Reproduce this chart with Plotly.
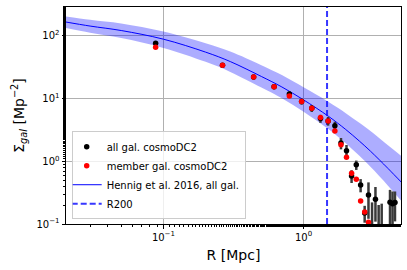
import plotly.graph_objects as go

# ---- data ----
# all galaxies (cosmoDC2): radius [Mpc], surface density, 1-sigma error
all_r = [0.088, 0.264, 0.440, 0.616, 0.792, 0.968, 1.144, 1.320, 1.496, 1.672,
         1.848, 2.024, 2.200, 2.376, 2.552, 2.728, 2.904, 3.256, 4.136, 4.312, 4.488]
all_sigma = [76, 34, 22, 15.5, 11.8, 9.0, 7.0, 4.8, 4.4, 3.67,
             1.95, 1.47, 0.585, 0.877, 0.42, 0.15, 0.291, 0.249, 0.223, 0.21, 0.22]
all_err = [5, 2.5, 1.8, 1.4, 1.2, 1.0, 0.9, 0.7, 0.7, 0.6,
           0.4, 0.35, 0.135, 0.15, 0.1, 0.045, 0.17, 0.14, 0.127, 0.12, 0.11]

# bins with zero counts but a non-zero upper error
zero_r = [3.080, 3.432, 3.608]
zero_err = [0.22, 0.20, 0.21]

# member galaxies
mem_r = [0.088, 0.264, 0.440, 0.616, 0.792, 0.968, 1.144, 1.320, 1.496, 1.672,
         1.848, 2.024, 2.200, 2.376, 2.552, 2.728, 2.904]
mem_sigma = [66, 34, 22, 15.5, 11.0, 9.0, 7.0, 5.0, 4.4, 3.05,
             1.83, 1.16, 0.645, 0.518, 0.233, 0.156, 0.107]

# Hennig et al. 2016 model and its band
model_r = [0.02, 0.03, 0.05, 0.1, 0.2, 0.3, 0.5, 0.7, 1.0, 1.5, 2.0, 2.5, 3.0, 4.0, 5.0]
model_sigma = [166.7, 143.2, 121.6, 88.5, 55.0, 38.9, 22.5, 15.3, 9.53, 5.24, 3.21, 2.10, 1.45, 0.769, 0.460]
model_hi = [205, 180, 157, 117, 75.9, 56.2, 34.0, 23.7, 15.1, 8.89, 5.85, 4.10, 3.03, 1.80, 1.21]
model_lo = [134, 112.5, 92.3, 64.1, 38.5, 26.6, 15.0, 10.1, 6.15, 3.27, 1.94, 1.22, 0.815, 0.408, 0.231]

R200 = 1.47

x_tickvals = [0.1, 1]
x_ticktext = ["10<sup>\u22121</sup>", "10<sup>0</sup>"]
y_tickvals = [0.1, 1, 10, 100]
y_ticktext = ["10<sup>\u22121</sup>", "10<sup>0</sup>", "10<sup>1</sup>", "10<sup>2</sup>"]

X_RANGE = [-1.695, 0.695]   # log10
Y_RANGE = [-1.0, 2.46]      # log10
Y_FLOOR = 1e-3

FONT = "DejaVu Sans, Arial, sans-serif"

fig = go.Figure()

# band
fig.add_trace(go.Scatter(x=model_r, y=model_lo, mode="lines", line=dict(width=0, shape="spline"),
                         showlegend=False, hoverinfo="skip"))
fig.add_trace(go.Scatter(x=model_r, y=model_hi, mode="lines", line=dict(width=0, shape="spline"),
                         fill="tonexty", fillcolor="rgba(0,0,255,0.32)",
                         showlegend=False, hoverinfo="skip"))
# model line
fig.add_trace(go.Scatter(x=model_r, y=model_sigma, mode="lines",
                         line=dict(color="#0000ff", width=1, shape="spline"),
                         name="Hennig et al. 2016, all gal.", legendrank=3))
# R200
fig.add_trace(go.Scatter(x=[R200, R200], y=[10 ** Y_RANGE[0], 10 ** Y_RANGE[1]], mode="lines",
                         line=dict(color="rgba(20,20,255,0.85)", width=2, dash="6px,3px"),
                         name="R200", legendrank=4))
# zero-count bins: error bars only
fig.add_trace(go.Scatter(x=zero_r, y=[Y_FLOOR] * len(zero_r), mode="markers",
                         marker=dict(size=1, color="rgba(0,0,0,0)"),
                         error_y=dict(type="data", array=zero_err, arrayminus=[0] * len(zero_r),
                                      color="#3a3a3a", thickness=2.5, width=0),
                         showlegend=False, hoverinfo="skip"))
# all galaxies
fig.add_trace(go.Scatter(x=all_r, y=all_sigma, mode="markers",
                         marker=dict(size=5.5, color="black"),
                         error_y=dict(type="data", array=all_err, color="#3a3a3a", thickness=2.5, width=0),
                         name="all gal. cosmoDC2", legendrank=1))
# member galaxies
fig.add_trace(go.Scatter(x=mem_r, y=mem_sigma, mode="markers",
                         marker=dict(size=5.5, color="red"),
                         name="member gal. cosmoDC2", legendrank=2))

axis_common = dict(
    type="log", showline=True, linecolor="black", linewidth=1, mirror=True,
    ticks="outside", ticklen=3.5, tickwidth=0.8, tickcolor="black",
    showgrid=True, gridcolor="#b0b0b0", gridwidth=0.8, zeroline=False, automargin=False,
    tickfont=dict(family=FONT, size=10, color="black"),
    minor=dict(ticks="outside", ticklen=2, tickwidth=0.6, tickcolor="black", showgrid=False),
)

fig.update_layout(
    width=407, height=270,
    margin=dict(l=66, r=6, t=7, b=46, autoexpand=False),
    paper_bgcolor="white", plot_bgcolor="white",
    font=dict(family=FONT, size=10, color="black"),
    xaxis=dict(axis_common, range=X_RANGE, tickvals=x_tickvals, ticktext=x_ticktext,
               title=dict(text="R [Mpc]", font=dict(family=FONT, size=14), standoff=8)),
    yaxis=dict(axis_common, range=Y_RANGE, tickvals=y_tickvals, ticktext=y_ticktext,
               title=dict(text="\u03a3<sub><i>gal</i></sub> [Mp<sup>\u22122</sup>]",
                          font=dict(family=FONT, size=14), standoff=8)),
    legend=dict(x=0.017, y=0.022, xanchor="left", yanchor="bottom", traceorder="normal",
                bgcolor="rgba(255,255,255,0.8)", bordercolor="#cccccc", borderwidth=1,
                font=dict(family=FONT, size=10), tracegroupgap=0, itemwidth=30,
                indentation=-6),
    showlegend=True,
)

fig.write_html("out.html", config={"displayModeBar": False},
               post_script="document.body.style.margin='0';document.body.style.padding='0';")
